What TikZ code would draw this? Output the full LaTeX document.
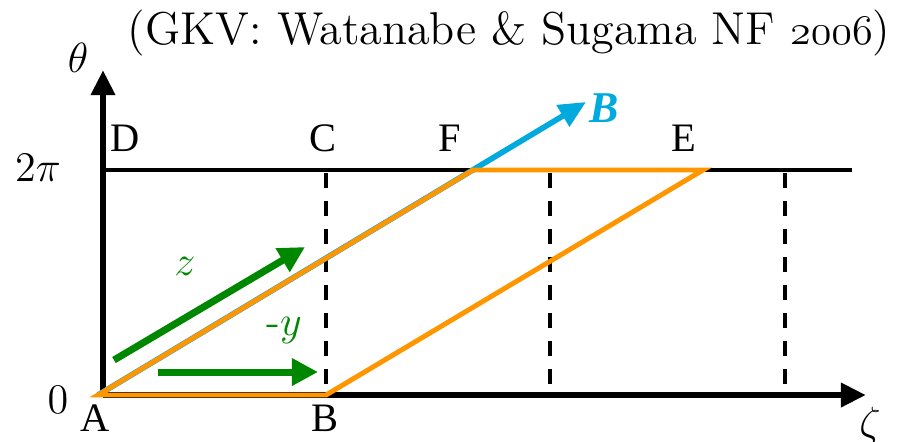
\documentclass[tikz,border=0pt]{standalone}
\usepackage{fontspec}
\usepackage{xcolor}
\usepackage{tikz}
\usetikzlibrary{arrows.meta, positioning}
\newfontfamily\labelfont{Liberation Serif}
\definecolor{fieldblue}{RGB}{0, 170, 222}
\definecolor{boxorange}{RGB}{255, 150, 0}
\definecolor{dirgreen}{RGB}{0, 135, 0}

\begin{document}
\begin{tikzpicture}[
    x=0.01cm, y=-0.01cm,
    axis/.style={line width=1.8pt, -{Triangle[length=0.25cm, width=0.23cm]}},
    gridline/.style={line width=0.9pt},
    dashline/.style={line width=0.9pt, dash pattern=on 0.15cm off 0.13cm},
    fieldline/.style={line width=1.6pt, color=fieldblue, -{Triangle[length=0.27cm, width=0.24cm]}},
    boxline/.style={line width=1.4pt, color=boxorange, line join=miter},
    dirarrow/.style={line width=2pt, color=dirgreen, -{Triangle[length=0.26cm, width=0.26cm]}},
    corner/.style={font=\labelfont\fontsize{11.5}{13}\selectfont, inner sep=0pt},
    axlabel/.style={font=\fontsize{12}{14}\selectfont, inner sep=0pt}
]
\useasboundingbox (0,0) rectangle (912,441);

% axes and periodic box
\coordinate (origin) at (103,395);
\coordinate (thetatip) at (103,70);
\coordinate (zetatip) at (866,395);
\coordinate (topleft) at (103,170);
\coordinate (topright) at (852,170);

\node[corner] (A) at (95,418) {A};
\node[corner] (Blab) at (325,418) {B};
\node[corner] (D) at (125,138) {D};
\node[corner] (C) at (323,138) {C};
\node[corner] (F) at (450,138) {F};
\node[corner] (E) at (684,138) {E};
\node[axlabel] (zero) at (58,400) {$0$};
\node[axlabel] (twopi) at (38,168) {$2\pi$};
\node[axlabel] (theta) at (78,58) {$\theta$};
\node[axlabel] (zeta) at (870,426) {$\zeta$};

\foreach \x in {326,550,785}
    \draw[dashline] (\x,173) -- (\x,385);
\draw[gridline] (topleft) -- (topright);
\draw[axis] (origin) -- (thetatip);
\draw[axis] (origin) -- (zetatip);

% field line and flux tube
\coordinate (pA) at (98,395);
\coordinate (pB) at (326,395);
\coordinate (pE) at (703,170);
\coordinate (pF) at (473,170);
\coordinate (btip) at (586,102);
\draw[fieldline] (pA) -- (btip);
\node[font=\labelfont\fontsize{12.5}{14}\selectfont\bfseries\itshape, color=fieldblue, inner sep=0pt] (Bvec) at (604,108) {B};
\draw[boxline] (pA) -- (pB) -- (pE) -- (pF) -- cycle;

% coordinate directions
\coordinate (zfrom) at (114,360);
\coordinate (zto) at (305,247);
\coordinate (yfrom) at (158,372);
\coordinate (yto) at (318,372);
\draw[dirarrow] (zfrom) -- (zto);
\draw[dirarrow] (yfrom) -- (yto);
\node[axlabel, color=dirgreen] (zlab) at (185,266) {$z$};
\node[axlabel, color=dirgreen] (ylab) at (284,330) {$\textrm{-}y$};

\node[font=\fontsize{13.1}{15}\selectfont, inner sep=0pt] (title) at (509,33)
    {(GKV: Watanabe \& Sugama NF $\mathnormal{2006}$)};

\end{tikzpicture}
\end{document}
